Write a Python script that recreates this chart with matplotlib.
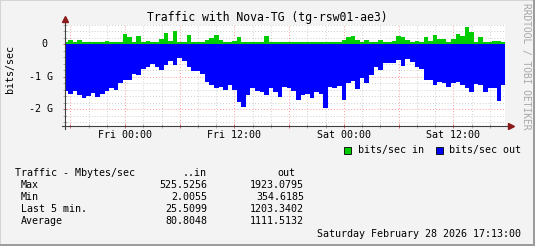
import numpy as np
import pandas as pd
import matplotlib
matplotlib.use("Agg")
import matplotlib.pyplot as plt
import matplotlib.dates as mdates
from matplotlib.patches import Rectangle

# ----------------------------------------------------------
# Data: 30-min samples, Gbit/s
# ----------------------------------------------------------
# bin edges of the 30-min samples (97 samples -> 98 edges)
edges = pd.date_range("2026-02-26 17:15", periods=98, freq="30min")

in_gbps = [
    0.07, 0.13, 0.07, 0.15, 0.07, 0.07, 0.07, 0.07, 0.07, 0.11,
    0.07, 0.07, 0.07, 0.32, 0.24, 0.07, 0.26, 0.08, 0.11, 0.07,
    0.07, 0.18, 0.36, 0.11, 0.42, 0.07, 0.07, 0.30, 0.07, 0.07,
    0.07, 0.13, 0.19, 0.30, 0.15, 0.08, 0.07, 0.11, 0.22, 0.07,
    0.08, 0.07, 0.07, 0.07, 0.26, 0.07, 0.07, 0.09, 0.09, 0.08,
    0.08, 0.08, 0.09, 0.08, 0.07, 0.07, 0.07, 0.07, 0.08, 0.07,
    0.07, 0.13, 0.24, 0.26, 0.13, 0.08, 0.15, 0.08, 0.08, 0.13,
    0.07, 0.07, 0.11, 0.26, 0.22, 0.13, 0.08, 0.11, 0.08, 0.22,
    0.11, 0.28, 0.18, 0.18, 0.07, 0.18, 0.32, 0.26, 0.54, 0.39,
    0.08, 0.24, 0.07, 0.07, 0.11, 0.11, 0.07,
]

out_gbps = [
    1.43, 1.53, 1.43, 1.56, 1.66, 1.59, 1.49, 1.63, 1.53, 1.43,
    1.35, 1.41, 1.20, 1.10, 1.08, 0.91, 0.94, 0.77, 0.69, 0.61,
    0.69, 0.79, 0.64, 0.50, 0.64, 0.43, 0.50, 0.69, 0.81, 0.81,
    0.91, 1.15, 1.25, 1.35, 1.30, 1.41, 1.25, 1.41, 1.76, 1.94,
    1.56, 1.35, 1.43, 1.46, 1.56, 1.35, 1.46, 1.61, 1.30, 1.35,
    1.43, 1.71, 1.56, 1.51, 1.66, 1.46, 1.53, 1.97, 1.30, 1.35,
    1.28, 1.71, 1.20, 1.12, 1.38, 1.03, 1.18, 0.94, 0.69, 0.79,
    0.56, 0.58, 0.58, 0.48, 0.66, 0.46, 0.53, 0.69, 0.74, 1.08,
    1.10, 1.25, 1.15, 1.20, 1.30, 1.18, 1.15, 1.25, 1.35, 1.46,
    1.22, 1.25, 1.46, 1.35, 1.35, 1.73, 1.25,
]

ytick_vals = [0, -1, -2]
ytick_labels = ["0", "-1 G", "-2 G"]
xlabel_times = ["2026-02-27 00:00", "2026-02-27 12:00",
                "2026-02-28 00:00", "2026-02-28 12:00"]
xlabel_texts = ["Fri 00:00", "Fri 12:00", "Sat 00:00", "Sat 12:00"]

stat_rows = ["Max", "Min", "Last 5 min.", "Average"]
stat_in = ["525.5256", "2.0055", "25.5099", "80.8048"]
stat_out = ["1923.0795", "354.6185", "1203.3402", "1111.5132"]

# ----------------------------------------------------------
# Figure
# ----------------------------------------------------------
W, H = 535, 246
MONO = "DejaVu Sans Mono"
plt.rcParams["font.family"] = MONO


def fx(px):
    return px / W


def fy(py):
    return 1 - py / H


fig = plt.figure(figsize=(W / 100, H / 100), dpi=100, facecolor="#f3f3f3")
ax = fig.add_axes([fx(65), fy(126), 440 / W, 101 / H])
ax.set_facecolor("white")

t0 = mdates.date2num(pd.Timestamp("2026-02-26 17:25"))
t1 = mdates.date2num(pd.Timestamp("2026-02-28 17:40"))
y0, y1 = -2.51, 0.59
ax.set_xlim(t0, t1)
ax.set_ylim(y0, y1)

# grid (drawn under the data)
ax.xaxis.set_major_locator(mdates.HourLocator(byhour=[0, 6, 12, 18]))
ax.xaxis.set_minor_locator(mdates.HourLocator(byhour=range(0, 24, 2)))
ax.set_yticks(np.arange(-2, 1, 1.0))
ax.set_yticks(np.arange(-2.4, 0.61, 0.2), minor=True)
ax.grid(which="major", color="#ff9a9a", linestyle=(0, (1, 2)), linewidth=0.7)
ax.grid(which="minor", color="#cfcfcf", linestyle=(0, (1, 2)), linewidth=0.7)
ax.set_axisbelow(True)
ax.tick_params(which="both", labelbottom=False, labelleft=False,
               direction="inout", length=3, width=0.6)
ax.tick_params(which="major", color="#d05050")
ax.tick_params(which="minor", color="#a0a0a0")

# data
edge_num = mdates.date2num(edges)
ax.stairs([-v for v in out_gbps], edge_num, baseline=0, fill=True,
          color="#0000ff", linewidth=0, zorder=2)
ax.stairs(in_gbps, edge_num, baseline=0, fill=True, color="#00cc00",
          linewidth=0, zorder=2.5)

# axes lines with arrows
for s in ax.spines.values():
    s.set_visible(False)
ax.plot([-0.007, 1.012], [0, 0], transform=ax.transAxes, color="#404040",
        lw=0.8, clip_on=False, zorder=3)
ax.plot([0, 0], [-0.03, 1.04], transform=ax.transAxes, color="#404040",
        lw=0.8, clip_on=False, zorder=3)
ax.plot([1.0125], [0], marker=">", markersize=4, color="#8b1a1a",
        transform=ax.transAxes, clip_on=False, zorder=4)
ax.plot([0], [1.055], marker="^", markersize=4, color="#8b1a1a",
        transform=ax.transAxes, clip_on=False, zorder=4)

# tick labels
for v, lab in zip(ytick_vals, ytick_labels):
    xr = 47 if lab == "0" else 53
    ya = (v - y0) / (y1 - y0)
    fig.text(fx(xr), fy(126) + ya * 101 / H, lab, ha="right", va="center",
             fontsize=7.2)
for tt, lab in zip(xlabel_times, xlabel_texts):
    xa = (mdates.date2num(pd.Timestamp(tt)) - t0) / (t1 - t0)
    fig.text(fx(65 + xa * 440), fy(135), lab, ha="center", va="center",
             fontsize=7.2)

# title / labels
fig.text(fx(267.5), fy(17), "Traffic with Nova-TG (tg-rsw01-ae3)",
         ha="center", va="center", fontsize=8.3)
fig.text(fx(10), fy(69), "bits/sec", rotation=90, ha="center",
         va="center", fontsize=7.2)
fig.text(fx(526), fy(66), "RRDTOOL / TOBI OETIKER", rotation=270,
         ha="center", va="center", fontsize=6.9, color="#a8a8a8")

# legend
fig.add_artist(Rectangle((fx(344), fy(154)), 7 / W, 7 / H,
                         transform=fig.transFigure, facecolor="#00cc00",
                         edgecolor="black", linewidth=0.6))
fig.text(fx(357.5), fy(150.5), "bits/sec in", ha="left", va="center",
         fontsize=7.2)
fig.add_artist(Rectangle((fx(436), fy(154)), 7 / W, 7 / H,
                         transform=fig.transFigure, facecolor="#0000ff",
                         edgecolor="black", linewidth=0.6))
fig.text(fx(449), fy(150.5), "bits/sec out", ha="left", va="center",
         fontsize=7.2)

# stats table
fig.text(fx(15), fy(173), "Traffic - Mbytes/sec", ha="left", va="center",
         fontsize=7.2)
fig.text(fx(207), fy(173), "..in", ha="right", va="center", fontsize=7.2)
fig.text(fx(295), fy(173), "out", ha="right", va="center", fontsize=7.2)
row_y = [185, 197.5, 209.5, 221.5]
for ry, name, vi, vo in zip(row_y, stat_rows, stat_in, stat_out):
    fig.text(fx(21), fy(ry), name, ha="left", va="center", fontsize=7.2)
    fig.text(fx(207), fy(ry), vi, ha="right", va="center", fontsize=7.2)
    fig.text(fx(304), fy(ry), vo, ha="right", va="center", fontsize=7.2)

fig.text(fx(521), fy(234), "Saturday February 28 2026 17:13:00",
         ha="right", va="center", fontsize=7.2)

# frame: light top/left, dark bottom/right
fig.add_artist(Rectangle((0, fy(1)), 1, 1 / H, transform=fig.transFigure,
                         color="#d4d4d4", lw=0))
fig.add_artist(Rectangle((0, 0), 1 / W, 1, transform=fig.transFigure,
                         color="#d4d4d4", lw=0))
fig.add_artist(Rectangle((0, 0), 1, 2 / H, transform=fig.transFigure,
                         color="#9c9c9c", lw=0))
fig.add_artist(Rectangle((fx(533), 0), 2 / W, 1, transform=fig.transFigure,
                         color="#9c9c9c", lw=0))

fig.savefig("out.png", dpi=100, facecolor=fig.get_facecolor())
